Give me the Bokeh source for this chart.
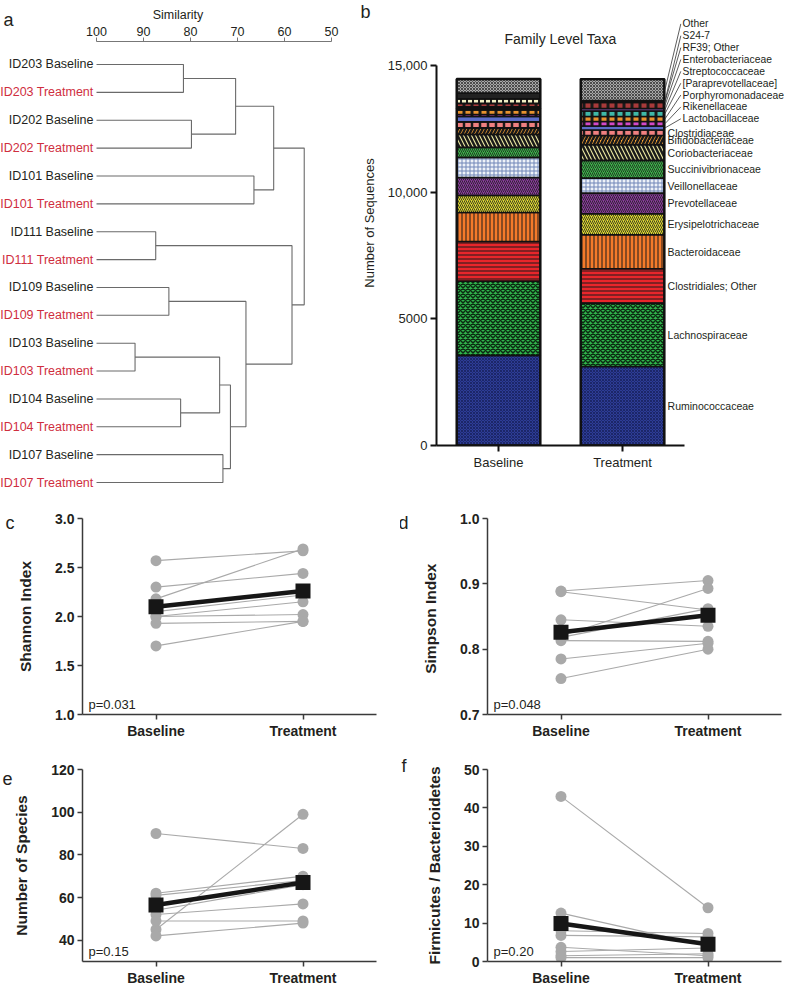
import numpy as np
from bokeh.plotting import figure
from bokeh.models import (Range1d, FixedTicker, Label, ColumnDataSource,
                          NumeralTickFormatter, FactorRange)
from bokeh.layouts import column, row
from bokeh.embed import file_html
from bokeh.resources import INLINE
from bokeh.core.properties import value

FONT = "Liberation Sans"
INK = "#231f20"
RED = "#cf2e3e"

# ---------------- panel a: dendrogram (similarity)
leaf_labels = [
    "ID203 Baseline", "ID203 Treatment", "ID202 Baseline", "ID202 Treatment",
    "ID101 Baseline", "ID101 Treatment", "ID111 Baseline", "ID111 Treatment",
    "ID109 Baseline", "ID109 Treatment", "ID103 Baseline", "ID103 Treatment",
    "ID104 Baseline", "ID104 Treatment", "ID107 Baseline", "ID107 Treatment"]
merge_left = [0, 2, 16, 4, 18, 6, 8, 10, 12, 23, 14, 25, 22, 21, 20]
merge_right = [1, 3, 17, 5, 19, 7, 9, 11, 13, 24, 15, 26, 27, 28, 29]
merge_similarity = [81.5, 79.8, 70.4, 66.5, 62.3, 87.4, 84.6, 91.8, 82.1,
                    73.8, 73.1, 71.5, 68.2, 58.4, 55.8]
similarity_ticks = [100, 90, 80, 70, 60, 50]

# ---------------- panel b: family level taxa
taxa = ["Ruminococcaceae", "Lachnospiraceae", "Clostridiales; Other", "Bacteroidaceae",
        "Erysipelotrichaceae", "Prevotellaceae", "Veillonellaceae", "Succinivibrionaceae",
        "Coriobacteriaceae", "Bifidobacteriaceae", "Clostridiaceae", "Lactobacillaceae",
        "Rikenellaceae", "Porphyromonadaceae", "[Paraprevotellaceae]", "Streptococcaceae",
        "Enterobacteriaceae", "RF39; Other", "S24-7", "Other"]
bar_groups = ["Baseline", "Treatment"]
baseline_counts = [3557, 2937, 1569, 1146, 672, 712, 791, 395, 514, 257, 237, 217,
                   79, 178, 60, 59, 138, 178, 229, 557]
treatment_counts = [3123, 2502, 1360, 1344, 830, 814, 593, 700, 621, 365, 217, 158,
                    178, 198, 217, 99, 237, 40, 40, 842]
seq_ticks = [0, 5000, 10000, 15000]
seq_tick_labels = ["0", "5000", "10,000", "15,000"]

taxa_colors = ["#2d3c96", "#2fb34b", "#e8262b", "#f47a2a", "#dcd730", "#8a3c9c",
               "#eef2f8", "#3cb44a", "#ece8a0", "#f6a033", "#f08080", "#5c6cc8",
               "#d448c8", "#e8922e", "#3fb8a8", "#7a4a9a", "#a83a3a", "#f2f0c4",
               "#222222", "#a8a8a8"]
taxa_hatch = ["diagonal_cross", "diagonal_cross", "horizontal_line", "vertical_line",
              "right_diagonal_line", "right_diagonal_line", "cross", "right_diagonal_line",
              "left_diagonal_line", "right_diagonal_line", "vertical_line", None,
              "vertical_line", "vertical_line", "vertical_line", None, "vertical_line",
              "vertical_line", None, "diagonal_cross"]
taxa_hatch_color = ["#141c55", "#0c2a12", "#1a1a1a", "#1a1a1a", "#1a1a1a", "#1a1a1a",
                    "#6f86b8", "#1a1a1a", "#1a1a1a", "#1a1a1a", "#1a1a1a", "#1a1a1a",
                    "#1a1a1a", "#1a1a1a", "#1a1a1a", "#1a1a1a", "#1a1a1a", "#1a1a1a",
                    "#1a1a1a", "#222222"]
taxa_hatch_scale = [3, 5, 4, 4, 4, 4, 4, 4, 8, 7, 8, 6, 8, 8, 8, 6, 8, 6, 6, 3]
taxa_hatch_weight = [0.7, 1.5, 1, 1, 0.8, 0.8, 1, 0.8, 2.5, 2.5, 2.5, 1, 3, 3, 3, 1,
                     3, 2, 1, 0.7]

# ---------------- panels c-f: paired alpha diversity
groups = ["Baseline", "Treatment"]
shannon_baseline = [2.57, 2.30, 2.18, 2.05, 2.00, 2.00, 1.93, 1.70]
shannon_treatment = [2.67, 2.44, 2.69, 2.22, 2.15, 2.02, 1.95, 1.95]
shannon_mean = [2.10, 2.26]
simpson_baseline = [0.889, 0.888, 0.845, 0.820, 0.818, 0.813, 0.785, 0.755]
simpson_treatment = [0.905, 0.860, 0.835, 0.893, 0.862, 0.812, 0.809, 0.800]
simpson_mean = [0.826, 0.852]
species_baseline = [90, 45, 62, 61, 54, 52, 49, 42]
species_treatment = [83, 99, 70, 68, 66, 57, 49, 48]
species_mean = [56.5, 67.0]
fb_baseline = [43.0, 12.6, 8.0, 6.8, 3.7, 2.6, 1.5, 1.0]
fb_treatment = [14.0, 4.0, 7.3, 6.4, 1.5, 3.5, 2.0, 1.0]
fb_mean = [9.9, 4.5]


def letter_title(p, text, offset, standoff):
    t = p.title
    t.text = text
    t.align = "left"
    t.offset = offset
    t.text_font = FONT
    t.text_font_size = "18px"
    t.text_font_style = "normal"
    t.text_color = INK
    t.vertical_align = "bottom"
    try:
        t.standoff = standoff
    except Exception:
        t.standoff = 0


def clean(p):
    p.outline_line_color = None
    p.xgrid.visible = False
    p.ygrid.visible = False
    p.background_fill_color = None
    p.border_fill_color = None
    try:
        p.frame_align = False
    except Exception:
        pass


# ======== panel a
n_leaves = len(leaf_labels)
node_x = [100.0] * n_leaves
node_y = [float(i) for i in range(n_leaves)]
den_xs, den_ys = [], []
for l, r, s in zip(merge_left, merge_right, merge_similarity):
    yl, yr = node_y[l], node_y[r]
    den_xs.append([node_x[l], s, s, node_x[r]])
    den_ys.append([yl, yl, yr, yr])
    node_x.append(s)
    node_y.append((yl + yr) / 2)

pa = figure(width=355, height=495, output_backend="svg", toolbar_location=None,
            x_axis_location="above", y_axis_location=None,
            x_range=Range1d(120.43, 44.89), y_range=Range1d(15.465, -0.825),
            min_border_left=0, min_border_right=0, min_border_top=41, min_border_bottom=0)
clean(pa)
pa.multi_line(den_xs, den_ys, line_color="#6a6a6a", line_width=1.1)
leaf_colors = [RED if "Treatment" in t else INK for t in leaf_labels]
pa.text(x=[100.0] * n_leaves, y=list(range(n_leaves)), text=leaf_labels,
        text_color=leaf_colors, text_align="right", text_baseline="middle",
        x_offset=-3, text_font=value(FONT), text_font_size="12.5px")
ax = pa.xaxis[0]
ax.ticker = FixedTicker(ticks=similarity_ticks)
ax.bounds = (50, 100)
ax.axis_label = "Similarity"
ax.axis_label_text_font = FONT
ax.axis_label_text_font_style = "normal"
ax.axis_label_text_font_size = "12.5px"
ax.axis_label_text_color = INK
ax.axis_label_standoff = 2
ax.major_label_text_font = FONT
ax.major_label_text_font_size = "12.5px"
ax.major_label_text_color = INK
ax.major_label_standoff = 2
ax.axis_line_color = "#777777"
ax.major_tick_line_color = "#777777"
ax.major_tick_out = 4
ax.major_tick_in = 0
ax.minor_tick_line_color = None
letter_title(pa, "a", 3, -51)

# ======== panel b
x_centers = [i + 0.5 for i in range(len(bar_groups))]
bar_w = 0.674
src_cols = {"x": x_centers}
keys = []
for i in range(len(taxa)):
    k = "t%d" % i
    keys.append(k)
    src_cols[k] = [baseline_counts[i], treatment_counts[i]]
src = ColumnDataSource(src_cols)

pb = figure(width=429, height=495, output_backend="svg", toolbar_location=None,
            x_range=Range1d(0, 2.806), y_range=Range1d(0, 17585),
            min_border_left=81, min_border_right=0, min_border_top=0, min_border_bottom=50)
clean(pb)
pb.vbar_stack(keys, x="x", width=bar_w, source=src, fill_color=taxa_colors,
              hatch_pattern=taxa_hatch, hatch_color=taxa_hatch_color,
              hatch_scale=taxa_hatch_scale, hatch_weight=taxa_hatch_weight,
              line_color="#111111", line_width=1.6)
totals = [sum(baseline_counts), sum(treatment_counts)]
pb.vbar(x=x_centers, top=totals, bottom=0, width=bar_w, fill_color=None,
        line_color="#111111", line_width=2.4)

tr_cum = np.cumsum([0] + treatment_counts)
centers = [(tr_cum[i] + tr_cum[i + 1]) / 2 for i in range(len(taxa))]
n_low = 11
bar_edge = x_centers[1] + bar_w / 2
low_x = bar_edge + 0.026
pb.text(x=[low_x] * n_low, y=centers[:n_low], text=taxa[:n_low],
        text_align="left", text_baseline="middle", text_font=value(FONT),
        text_font_size="10.5px", text_color=INK)
upper_idx = list(range(n_low, len(taxa)))
fan_start, fan_step = 12910, 469
up_y = [fan_start + k * fan_step for k in range(len(upper_idx))]
up_x = 1.984
pb.segment(x0=[bar_edge + 0.005] * len(upper_idx),
           y0=[centers[i] for i in upper_idx],
           x1=[up_x - 0.014] * len(upper_idx), y1=up_y,
           line_color="#333333", line_width=0.8)
pb.text(x=[up_x] * len(upper_idx), y=up_y, text=[taxa[i] for i in upper_idx],
        text_align="left", text_baseline="middle", text_font=value(FONT),
        text_font_size="10.3px", text_color=INK)
pb.add_layout(Label(x=1.0, y=16050, text="Family Level Taxa", text_align="center",
                    text_baseline="middle", text_font=FONT, text_font_size="14px",
                    text_color=INK))

yb = pb.yaxis[0]
yb.ticker = FixedTicker(ticks=seq_ticks)
yb.major_label_overrides = {t: s for t, s in zip(seq_ticks, seq_tick_labels)}
yb.bounds = (0, 15000)
yb.axis_label = "Number of Sequences"
xb = pb.xaxis[0]
xb.ticker = FixedTicker(ticks=x_centers)
xb.major_label_overrides = {t: s for t, s in zip(x_centers, bar_groups)}
xb.bounds = (0, 2)
for a in (yb, xb):
    a.axis_line_color = "#111111"
    a.axis_line_width = 2
    a.major_tick_line_color = "#111111"
    a.major_tick_line_width = 2
    a.major_tick_out = 6
    a.major_tick_in = 0
    a.minor_tick_line_color = None
    a.major_label_text_font = FONT
    a.major_label_text_font_size = "13px"
    a.major_label_text_color = INK
    a.major_label_standoff = 3
    a.axis_label_text_font = FONT
    a.axis_label_text_font_style = "normal"
    a.axis_label_text_font_size = "13px"
    a.axis_label_text_color = INK
    a.axis_label_standoff = 8
letter_title(pb, "b", -76, -43)


# ======== panels c-f
def pair_panel(width, height, left, right, top, bottom, y0, y1, y_ticks, fmt, ylabel,
               base, treat, means, ptext, bounds=None):
    p = figure(width=width, height=height, output_backend="svg", toolbar_location=None,
               x_range=FactorRange(factors=groups), y_range=Range1d(y0, y1),
               min_border_left=left, min_border_right=right, min_border_top=top,
               min_border_bottom=bottom)
    clean(p)
    xs = [groups[:] for _ in base]
    ys = [[b, t] for b, t in zip(base, treat)]
    p.multi_line(xs, ys, line_color="#a9a9a9", line_width=1.1)
    p.scatter(x=[groups[0]] * len(base) + [groups[1]] * len(treat),
              y=list(base) + list(treat), marker="circle", size=11,
              fill_color="#a9a9a9", line_color=None)
    p.line(x=groups, y=means, line_color="#161616", line_width=4.5)
    p.scatter(x=groups, y=means, marker="square", size=15, fill_color="#161616",
              line_color=None)
    ya = p.yaxis[0]
    ya.ticker = FixedTicker(ticks=y_ticks)
    if fmt:
        ya.formatter = NumeralTickFormatter(format=fmt)
    if bounds:
        ya.bounds = bounds
    ya.axis_label = ylabel
    ya.axis_label_standoff = 18
    for a in (ya, p.xaxis[0]):
        a.axis_line_color = "#3a3a3a"
        a.axis_line_width = 1.5
        a.major_tick_line_color = "#3a3a3a"
        a.major_tick_line_width = 1.5
        a.major_tick_out = 5
        a.major_tick_in = 0
        a.minor_tick_line_color = None
        a.major_label_text_font = FONT
        a.major_label_text_font_style = "bold"
        a.major_label_text_font_size = "14px"
        a.major_label_text_color = INK
        a.major_label_standoff = 3
        a.axis_label_text_font = FONT
        a.axis_label_text_font_style = "bold"
        a.axis_label_text_font_size = "15.5px"
        a.axis_label_text_color = INK
    p.add_layout(Label(x=6, y=10, x_units="screen", y_units="screen", text=ptext,
                       text_font=FONT, text_font_size="13px", text_color=INK,
                       text_baseline="middle"))
    return p


pc = pair_panel(400, 247, 82, 24, 23, 28, 1.0, 3.0, [1.0, 1.5, 2.0, 2.5, 3.0], "0.0",
                "Shannon Index", shannon_baseline, shannon_treatment, shannon_mean,
                "p=0.031")
pd = pair_panel(384, 247, 87, 3, 23, 28, 0.7, 1.0, [0.7, 0.8, 0.9, 1.0], "0.0",
                "Simpson  Index", simpson_baseline, simpson_treatment, simpson_mean,
                "p=0.048")
pe = pair_panel(400, 246, 82, 24, 27, 26, 30, 120, [40, 60, 80, 100, 120], None,
                "Number of Species", species_baseline, species_treatment, species_mean,
                "p=0.15", bounds=(30, 120))
pf = pair_panel(384, 246, 87, 3, 27, 26, 0, 50, [0, 10, 20, 30, 40, 50], None,
                "Firmicutes / Bacterioidetes", fb_baseline, fb_treatment, fb_mean,
                "p=0.20")

letter_title(pc, "c", -77, -29)
letter_title(pd, "d", -89, -29)
letter_title(pe, "e", -80, -30)
letter_title(pf, "f", -86, -12)

layout = column(row(pa, pb), row(pc, pd), row(pe, pf))
open("out.html", "w").write(file_html(layout, INLINE))
